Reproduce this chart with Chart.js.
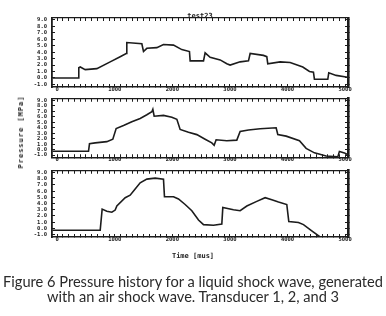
<!DOCTYPE html>
<html>
<head>
<meta charset="utf-8">
<script src="https://cdn.jsdelivr.net/npm/chart.js@4/dist/chart.umd.min.js"></script>
<style>
body{margin:0;background:#fff;width:386px;height:316px;position:relative;overflow:hidden}
canvas{position:absolute;left:0}
.lbl{position:absolute;font:bold 7px 'DejaVu Sans Mono',monospace;color:#222;white-space:nowrap}
#ylab{left:21px;top:132px;letter-spacing:1px;transform:translate(-50%,-50%) rotate(-90deg)}
#xlab{left:193px;top:256px;transform:translate(-50%,-50%)}
#cap{position:absolute;left:0;top:274px;width:386px;text-align:center;font-family:Lato,sans-serif;font-size:14px;line-height:15px;color:#2a2a2a}
</style>
</head>
<body>
<canvas id="c1" width="386" height="100" style="top:0"></canvas>
<canvas id="c2" width="386" height="80" style="top:88px"></canvas>
<canvas id="c3" width="386" height="90" style="top:160px"></canvas>
<div class="lbl" id="ylab">Pressure [MPa]</div>
<div class="lbl" id="xlab">Time [mus]</div>
<div id="cap"><span id="l1">Figure 6 Pressure history for a liquid shock wave, generated</span><br><span>with an air shock wave. Transducer 1, 2, and 3</span></div>
<script>
// tick labels
const xLabels = [0, 1000, 2000, 3000, 4000, 5000];
const yLabels = [-1, 0, 1, 2, 3, 4, 5, 6, 7, 8, 9];

// transducer 1 (test23)
const t1 = [-80, 370, 375, 400, 486, 689, 920, 1094, 1198, 1209, 1470, 1499, 1557, 1730, 1846, 2020, 2164, 2297, 2309, 2541, 2569, 2656, 2830, 2946, 3003, 3177, 3322, 3351, 3582, 3640, 3657, 3872, 4045, 4265, 4381, 4450, 4467, 4699, 4716, 4844, 5017, 5040];
const p1 = [0.0, 0.0, 1.6, 1.7, 1.3, 1.45, 2.5, 3.3, 3.8, 5.5, 5.3, 4.1, 4.6, 4.7, 5.2, 5.1, 4.4, 4.1, 2.65, 2.65, 3.9, 3.2, 2.8, 2.2, 2.0, 2.5, 2.65, 3.8, 3.5, 3.3, 2.2, 2.5, 2.4, 1.7, 1.0, 0.9, -0.2, -0.2, 0.8, 0.4, 0.15, 0.1];

// transducer 2
const t2 = [-80, 544, 561, 660, 862, 966, 1024, 1152, 1296, 1441, 1557, 1644, 1661, 1684, 1846, 1991, 2078, 2135, 2280, 2425, 2569, 2685, 2726, 2760, 2946, 3119, 3177, 3322, 3524, 3802, 3831, 3976, 4207, 4323, 4467, 4670, 4873, 4901, 4988, 5040];
const p2 = [-0.3, -0.3, 1.06, 1.23, 1.45, 1.9, 3.85, 4.4, 5.08, 5.7, 6.37, 6.93, 7.37, 6.1, 6.26, 5.92, 5.53, 3.69, 3.18, 2.74, 1.9, 1.23, 0.78, 1.79, 1.62, 1.73, 3.3, 3.58, 3.8, 4.0, 2.75, 2.46, 1.62, 0.23, -0.6, -1.17, -1.34, -0.33, -0.6, -0.9];

// transducer 3
const t3 = [-80, 747, 781, 862, 949, 1007, 1036, 1181, 1267, 1354, 1441, 1557, 1701, 1846, 1863, 2020, 2106, 2222, 2338, 2454, 2541, 2714, 2859, 2876, 3061, 3177, 3293, 3466, 3611, 3727, 3843, 3987, 4022, 4190, 4277, 4421, 4566, 5040];
const p3 = [-0.3, -0.3, 3.1, 2.75, 2.6, 2.95, 3.6, 4.95, 5.35, 6.35, 7.35, 7.95, 8.1, 7.95, 5.1, 5.1, 4.75, 3.85, 2.85, 1.35, 0.6, 0.5, 0.7, 3.35, 3.0, 2.85, 3.6, 4.35, 4.95, 4.6, 4.25, 3.85, 1.1, 0.95, 0.6, -0.4, -1.4, -1.4];

const X_MIN = -90, X_MAX = 5050, Y_MIN = -1.4, Y_MAX = 9.3;
const INK = '#1c1c1c';
const tickFont = {family: "'DejaVu Sans Mono', monospace", size: 5.5, weight: 'bold', lineHeight: 1};

const xMinor = [];
for (let v = 0; v <= 5000; v += 100) xMinor.push(v);

function xScale(pos, showLabels, h, title) {
  return {
    type: 'linear', position: pos, min: X_MIN, max: X_MAX,
    afterBuildTicks: s => { s.ticks = xMinor.map(v => ({value: v})); },
    afterFit: s => { s.height = h; },
    grid: {drawOnChartArea: false, drawTicks: true, tickLength: -3, color: INK, lineWidth: 1},
    border: {display: true, color: INK, width: pos === 'bottom' ? 1.5 : 1.2},
    ticks: {display: showLabels, autoSkip: false, maxRotation: 0, padding: 3, color: INK, font: tickFont,
      callback: v => xLabels.includes(v) ? String(v) : ''},
    title: title ? {display: true, text: title, color: INK,
      font: {family: "'DejaVu Sans Mono', monospace", size: 7, weight: 'bold', lineHeight: 1},
      padding: {top: 12.5, bottom: 0}} : {display: false}
  };
}

function yScale(pos, showLabels, w) {
  return {
    type: 'linear', position: pos, min: Y_MIN, max: Y_MAX,
    afterBuildTicks: s => { s.ticks = yLabels.map(v => ({value: v})); },
    afterFit: s => { s.width = w; },
    grid: {drawOnChartArea: false, drawTicks: true, tickLength: -3, color: INK, lineWidth: 1},
    border: {display: true, color: INK, width: pos === 'left' ? 1.8 : 2.6},
    ticks: {display: showLabels, autoSkip: false, padding: 8, color: INK, font: tickFont, callback: v => v.toFixed(1)}
  };
}

function makeChart(id, t, p, top, bottom, H, title) {
  new Chart(document.getElementById(id), {
    type: 'line',
    data: {
      datasets: [{
        data: t.map((x, i) => ({x: x, y: p[i]})),
        borderColor: INK, borderWidth: 1.6, pointRadius: 0, tension: 0, fill: false
      }]
    },
    options: {
      responsive: false, animation: false, events: [],
      layout: {padding: 0},
      plugins: {legend: {display: false}, tooltip: {enabled: false}},
      scales: {
        x: xScale('bottom', true, H - bottom),
        xTop: xScale('top', false, top, title),
        y: yScale('left', true, 52),
        yRight: yScale('right', false, 38)
      }
    }
  });
}

makeChart('c1', t1, p1, 18, 87, 100, 'test23');
makeChart('c2', t2, p2, 6, 71, 80);
makeChart('c3', t3, p3, 7, 77, 90);

// fit caption width to the reference
const l1 = document.getElementById('l1');
const k = 380 / l1.getBoundingClientRect().width;
document.getElementById('cap').style.fontSize = (14 * k) + 'px';
</script>
</body>
</html>
